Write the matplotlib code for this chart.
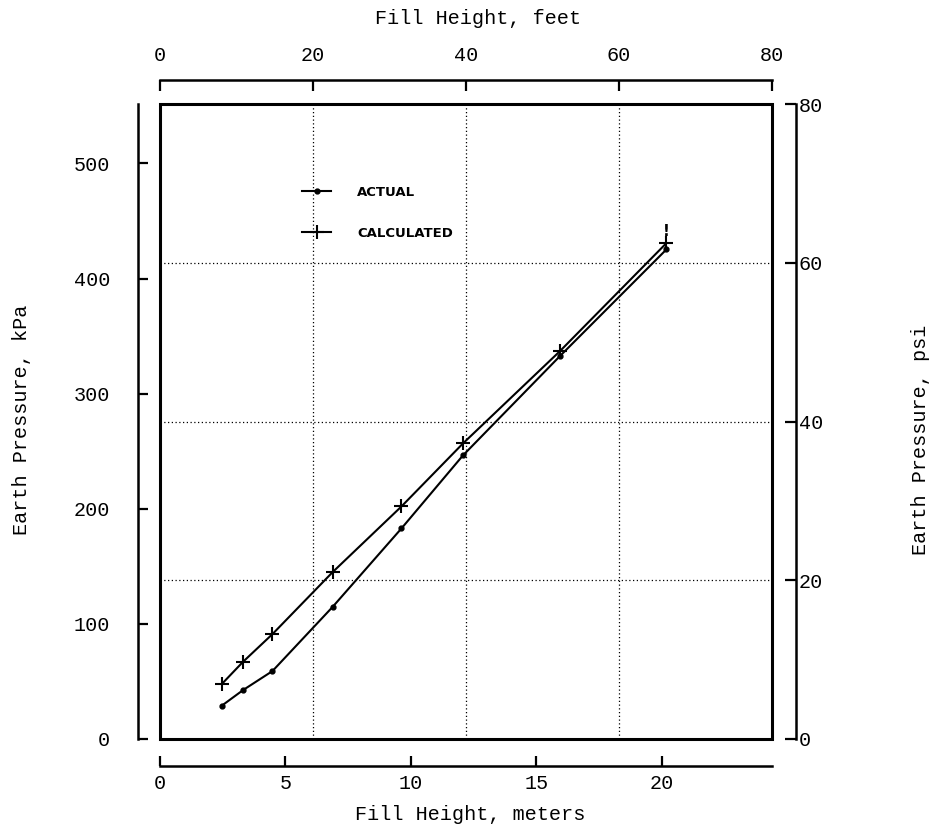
import matplotlib.pyplot as plt
from matplotlib.patches import Rectangle

# unit conversions
FT = 0.3048        # metres per foot
PSI = 6.894757     # kPa per psi

# data (fill height in metres, pressure in kPa)
fill_height_m = [2.46, 3.31, 4.48, 6.88, 9.62, 12.07, 15.93, 20.18]
actual_kpa = [28.9, 42.5, 59.0, 114.8, 182.9, 246.3, 332.5, 425.3]
calculated_kpa = [47.7, 67.1, 91.1, 145.0, 202.0, 256.7, 336.8, 430.8]

meter_ticks = [0, 5, 10, 15, 20]
kpa_ticks = [0, 100, 200, 300, 400, 500]
feet_ticks = [0, 20, 40, 60, 80]
psi_ticks = [0, 20, 40, 60, 80]
grid_ft = [20, 40, 60]
grid_psi = [20, 40, 60]

plt.rcParams['font.family'] = ['Liberation Mono', 'DejaVu Sans Mono']
FS = 14.5

W, H = 930, 832
fig = plt.figure(figsize=(W / 100, H / 100), dpi=100, facecolor="white")
ax = fig.add_axes([160 / W, (H - 739) / H, 612 / W, 635 / H])
ax.set_xlim(0, 80 * FT)
ax.set_ylim(0, 80 * PSI)

# heavy frame around the plotting area
ax.add_patch(Rectangle((0, 0), 1, 1, transform=ax.transAxes, fill=False,
                       lw=2.2, color="black", clip_on=False, zorder=5))

# detached metric scales
ax.spines['top'].set_visible(False)
ax.spines['right'].set_visible(False)
ax.spines['left'].set_position(('outward', 22 * 0.72))
ax.spines['bottom'].set_position(('outward', 27 * 0.72))
for sp in ('left', 'bottom'):
    ax.spines[sp].set_linewidth(1.8)
ax.set_xticks(meter_ticks)
ax.set_yticks(kpa_ticks)
ax.tick_params(direction='in', length=7, width=1.6, labelsize=FS, color="black")
ax.tick_params(axis='x', pad=6)
ax.tick_params(axis='y', pad=20)

# detached imperial scales
secx = ax.secondary_xaxis(1 + 24 / 635, functions=(lambda m: m / FT, lambda f: f * FT))
secx.set_xticks(feet_ticks)
secx.spines['top'].set_linewidth(1.8)
secx.tick_params(direction='in', length=8, width=1.6, labelsize=FS, pad=11)

secy = ax.secondary_yaxis(1 + 24 / 612, functions=(lambda k: k / PSI, lambda p: p * PSI))
secy.set_yticks(psi_ticks)
secy.spines['right'].set_linewidth(1.8)
secy.tick_params(direction='in', length=8, width=1.6, labelsize=FS, pad=2)

# dotted grid at the imperial round numbers
for f in grid_ft:
    ax.axvline(f * FT, color="black", ls=(0, (1, 2)), lw=0.9, zorder=1)
for p in grid_psi:
    ax.axhline(p * PSI, color="black", ls=(0, (1, 2)), lw=0.9, zorder=1)

ax.plot(fill_height_m, actual_kpa, color="black", lw=1.5, marker="o",
        ms=3.5, label="ACTUAL", zorder=3)
ax.plot(fill_height_m, calculated_kpa, color="black", lw=1.5, marker="+",
        ms=10.5, mew=1.5, label="CALCULATED", zorder=3)
ax.annotate("!", xy=(fill_height_m[-1], calculated_kpa[-1]), xytext=(0, 3),
            textcoords="offset points", ha="center", va="bottom",
            fontsize=11, fontweight="bold", family="DejaVu Sans")

ax.legend(loc="upper left", bbox_to_anchor=(142 / 612, 1 - 82 / 635),
          frameon=False, borderpad=0, borderaxespad=0, handlelength=2.2,
          handletextpad=2.0, labelspacing=2.1,
          prop={"family": "DejaVu Sans", "weight": "bold", "size": 9.5})

fig.text(478 / W, 1 - 18 / H, "Fill Height, feet", ha="center", va="center", fontsize=FS)
fig.text(470 / W, 1 - 815 / H, "Fill Height, meters", ha="center", va="center", fontsize=FS)
fig.text(22 / W, 1 - 420 / H, "Earth Pressure, kPa", ha="center", va="center",
         rotation=90, fontsize=FS)
fig.text(920 / W, 1 - 440 / H, "Earth Pressure, psi", ha="center", va="center",
         rotation=90, fontsize=FS)

fig.savefig("out.png", dpi=100, facecolor="white")
